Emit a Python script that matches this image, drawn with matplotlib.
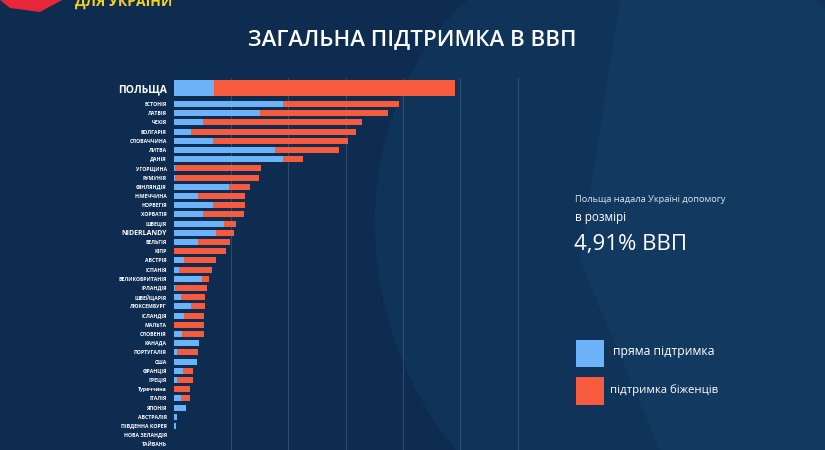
import numpy as np
import matplotlib.pyplot as plt
from matplotlib.patches import Polygon, Ellipse, Rectangle

countries = ["ПОЛЬЩА", "ЕСТОНІЯ", "ЛАТВІЯ", "ЧЕХІЯ", "БОЛГАРІЯ", "СЛОВАЧЧИНА",
             "ЛИТВА", "ДАНІЯ", "УГОРЩИНА", "РУМУНІЯ", "ФІНЛЯНДІЯ", "НІМЕЧЧИНА",
             "НОРВЕГІЯ", "ХОРВАТІЯ", "ШВЕЦІЯ", "NIDERLANDY", "БЕЛЬГІЯ", "КІПР",
             "АВСТРІЯ", "ІСПАНІЯ", "ВЕЛИКОБРИТАНІЯ", "ІРЛАНДІЯ", "ШВЕЙЦАРІЯ",
             "ЛЮКСЕМБУРГ", "ІСЛАНДІЯ", "МАЛЬТА", "СЛОВЕНІЯ", "КАНАДА",
             "ПОРТУГАЛІЯ", "США", "ФРАНЦІЯ", "ГРЕЦІЯ", "Туреччина", "ІТАЛІЯ",
             "ЯПОНІЯ", "АВСТРАЛІЯ", "ПІВДЕННА КОРЕЯ", "НОВА ЗЕЛАНДІЯ", "ТАЙВАНЬ"]

# пряма підтримка, % ВВП
direct = [0.71, 1.90, 1.51, 0.51, 0.31, 0.69, 1.76, 1.90, 0.02, 0.02, 0.96, 0.42,
          0.68, 0.51, 0.88, 0.74, 0.42, 0.0, 0.18, 0.10, 0.49, 0.02, 0.12,
          0.31, 0.18, 0.0, 0.15, 0.44, 0.06, 0.41, 0.16, 0.06, 0.0, 0.12,
          0.22, 0.06, 0.035, 0.01, 0.01]

# загальна підтримка, % ВВП
total = [4.91, 3.93, 3.74, 3.28, 3.18, 3.05, 2.89, 2.26, 1.52, 1.48, 1.34, 1.24,
         1.24, 1.22, 1.09, 1.05, 0.98, 0.92, 0.74, 0.67, 0.61, 0.58, 0.55,
         0.55, 0.53, 0.53, 0.53, 0.44, 0.43, 0.41, 0.33, 0.33, 0.29, 0.28,
         0.22, 0.06, 0.035, 0.01, 0.01]

refugees = [t - d for t, d in zip(total, direct)]

BG = "#0e2c4f"
BLUE = "#6db3f9"
RED = "#f65b3e"

plt.rcParams['font.family'] = ["Open Sans", "DejaVu Sans"]

fig = plt.figure(figsize=(8.25, 4.5), dpi=100)
fig.patch.set_facecolor(BG)

# фонові фігури
bg = fig.add_axes([0, 0, 1, 1])
bg.set_xlim(0, 825)
bg.set_ylim(450, 0)
bg.axis("off")
bg.add_patch(Ellipse((660, 250), 560, 640, angle=-20, color="#15416a", alpha=0.4, lw=0))
bg.add_patch(Polygon([[620, 0], [825, 0], [825, 450], [660, 450], [580, 260]],
                     closed=True, color="#1a4a76", alpha=0.25, lw=0))
bg.add_patch(Polygon([[0, 0], [62, 0], [40, 12], [10, 8]], closed=True, color="#e8263a", lw=0))
bg.text(75, 1, "ДЛЯ УКРАЇНИ", color="#f4d21e", fontsize=10, fontweight="bold", va="center")

fig.text(0.5, 0.912, "ЗАГАЛЬНА ПІДТРИМКА В ВВП", color="white", fontsize=16,
         fontweight="semibold", ha="center", va="center")

ax = fig.add_axes([173.7 / 825, 0, 372.5 / 825, 372 / 450])
ax.set_facecolor("none")

pos = np.array([0.0] + [1.74 + i for i in range(len(countries) - 1)])
heights = np.array([1.74] + [0.65] * (len(countries) - 1))

ax.barh(pos, direct, height=heights, color=BLUE, zorder=3)
ax.barh(pos, refugees, left=direct, height=heights, color=RED, zorder=3)

ax.set_xlim(0, 6.5)
ax.set_ylim(39.35, -1.09)
ax.set_xticks([1, 2, 3, 4, 5, 6])
ax.grid(axis="x", color="#4f7196", lw=0.7, alpha=0.45, zorder=0)
ax.tick_params(length=0, labelbottom=False)
ax.set_yticks(pos)
ax.set_yticklabels(countries, color="white", fontweight="bold")
for i, lbl in enumerate(ax.get_yticklabels()):
    if i == 0:
        lbl.set_fontsize(7.5)
    elif countries[i] == "NIDERLANDY":
        lbl.set_fontsize(5)
    else:
        lbl.set_fontsize(3.7)
ax.tick_params(axis="y", pad=5)
for s in ax.spines.values():
    s.set_visible(False)

# текст праворуч
fig.text(575 / 825, 1 - 199 / 450, "Польща надала Україні допомогу", color="#dde6f0",
         fontsize=6.7, va="center")
fig.text(575 / 825, 1 - 218 / 450, "в розмірі", color="white", fontsize=8.5, va="center")
fig.text(574 / 825, 1 - 245 / 450, "4,91% ВВП", color="white", fontsize=16, va="center")

# легенда
bg.add_patch(Rectangle((576, 340), 28, 27, color=BLUE, lw=0))
bg.add_patch(Rectangle((576, 377), 28, 28, color=RED, lw=0))
bg.text(613, 352, "пряма підтримка", color="white", fontsize=8.8, va="center")
bg.text(610, 390, "підтримка біженців", color="white", fontsize=8.2, va="center")

fig.savefig("out.png", dpi=100, facecolor=fig.get_facecolor())
